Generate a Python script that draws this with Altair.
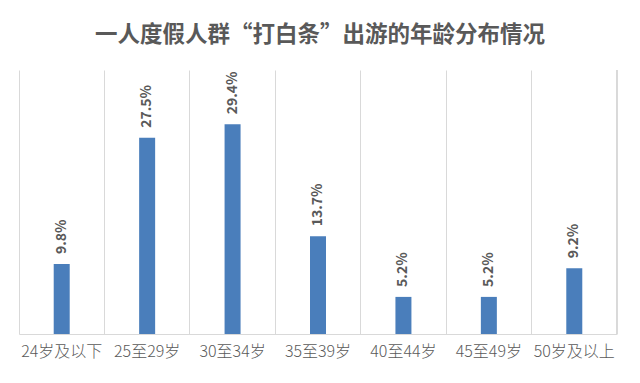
import altair as alt
import pandas as pd

categories = ["24岁及以下", "25至29岁", "30至34岁", "35至39岁", "40至44岁", "45至49岁", "50岁及以上"]
values = [9.8, 27.5, 29.4, 13.7, 5.2, 5.2, 9.2]
labels = ["9.8%", "27.5%", "29.4%", "13.7%", "5.2%", "5.2%", "9.2%"]
title = "一人度假人群“打白条”出游的年龄分布情况"

df = pd.DataFrame({"cat": categories, "val": values, "lab": labels})

W, H = 598, 264
FONT = "Noto Sans CJK SC"

x = alt.X("cat:N", sort=categories, title=None,
          scale=alt.Scale(paddingInner=0, paddingOuter=0),
          axis=alt.Axis(labelAngle=0, labelFontSize=16, labelColor="#595959", labelFont=FONT,
                        labelFontWeight=300,
                        ticks=False, labelPadding=9, domainColor="#d9d9d9", domainWidth=1,
                        grid=True, gridColor="#d9d9d9", bandPosition=0))
y = alt.Y("val:Q", scale=alt.Scale(domain=[0, 37], nice=False), axis=None)

base = alt.Chart(df)
bars = base.mark_bar(color="#4a7ebb", size=16).encode(x=x, y=y)
text = base.mark_text(angle=270, align="left", baseline="middle", dx=10, fontSize=14,
                      fontWeight="bold", color="#595959", font=FONT).encode(
    x=alt.X("cat:N", sort=categories), y=alt.Y("val:Q"), text="lab:N")
right_rule = base.mark_rule(color="#d9d9d9").encode(x=alt.value(W), y=alt.value(0), y2=alt.value(H))
title_text = alt.Chart(pd.DataFrame({"t": [title]})).mark_text(
    fontSize=22.5, fontWeight="bold", color="#595959", font=FONT, baseline="middle", align="center"
).encode(text="t:N", x=alt.value(W / 2 + 2), y=alt.value(-35))

chart = alt.layer(bars, text, right_rule, title_text).properties(
    width=W, height=H,
    autosize=alt.AutoSizeParams(type="none"),
    padding={"left": 11, "top": 62, "right": 15, "bottom": 41},
    background="white",
).configure_view(stroke=None)

chart.save("out.html", embed_options={"renderer": "svg", "actions": False})
